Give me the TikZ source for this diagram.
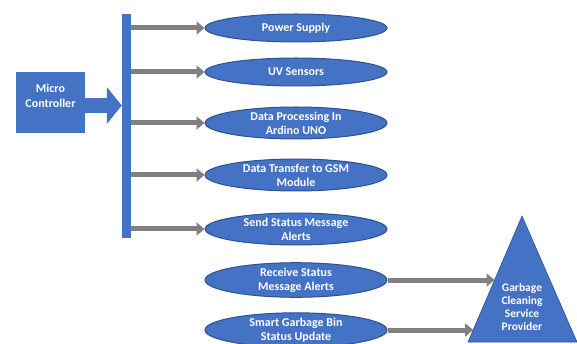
\documentclass[tikz,border=0pt]{standalone}
\usepackage{fontspec}
\setmainfont{Carlito}
\usepackage{tikz}
\usetikzlibrary{calc}
\definecolor{MSblue}{RGB}{68,114,196}
\definecolor{MSdark}{RGB}{47,82,143}
\definecolor{MSgrey}{RGB}{128,128,128}
\usetikzlibrary{shapes.geometric}
\usetikzlibrary{arrows.meta}

\begin{document}
\begin{tikzpicture}[x=1pt, y=-1pt,
  GrauPfeil/.style={draw=MSgrey, line width=5pt, arrows = -{Triangle[length=8pt, width=13pt]}},
  Blase/.style={ellipse, draw=MSdark, line width=1pt, fill=MSblue, text=white, align=center, minimum width=182pt, minimum height=32pt, inner sep=0pt, font=\bfseries\fontsize{12}{14}\selectfont}]
\useasboundingbox (0,0) rectangle (577,344);
\node (mc) at (50.5,102.5) [fill=MSblue, minimum width=69pt, minimum height=61pt, inner sep=0pt] {};
\node (mctext) at ($(mc.center) - (0,7)$) [text=white, align=center, font=\bfseries\fontsize{12}{15}\selectfont] {Micro\\Controller};
\node (bus) at (126.5,126) [fill=MSblue, minimum width=9pt, minimum height=224pt, inner sep=0pt] {};
\draw[MSblue, line width=15pt, arrows = -{Triangle[length=15pt, width=36pt]}] ($(mc.east) + (0,3)$) -- ($(mc.east -| bus.west) + (0,3)$);
\node (ps) at (296,28) [Blase, minimum height=28pt] {Power Supply};
\node (uv) at (296,72) [Blase, minimum height=28pt] {UV Sensors};
\node (dp) at (296,123) [Blase] {Data Processing In\\Ardino UNO};
\node (dt) at (296,175) [Blase] {Data Transfer to GSM\\Module};
\node (ss) at (296,229) [Blase] {Send Status Message\\Alerts};
\node (rs) at (296,280) [Blase] {Receive Status\\Message Alerts};
\node (sg) at (296,330) [Blase] {Smart Garbage Bin\\Status Update};
% triangle for the service provider
\coordinate (apex) at (522,216);
\coordinate (bl) at (468,342);
\coordinate (br) at (577,342);
\draw[fill=MSblue, draw=MSdark, line width=0.6pt] (apex) -- (bl) -- (br) -- cycle;
\node (gcsp) at (522,307) [text=white, align=center, font=\bfseries\fontsize{11.5}{13}\selectfont] {Garbage\\Cleaning\\Service\\Provider};
\coordinate (e1) at ($(apex)!0.508!(bl)$);
\coordinate (e2) at ($(apex)!0.905!(bl)$);
\draw[GrauPfeil] (bus.east |- ps) -- (ps.west);
\draw[GrauPfeil] (bus.east |- uv) -- (uv.west);
\draw[GrauPfeil] (bus.east |- dp) -- (dp.west);
\draw[GrauPfeil] (bus.east |- dt) -- (dt.west);
\draw[GrauPfeil] (bus.east |- ss) -- (ss.west);
\draw[GrauPfeil] (rs.east) -- (rs.east -| e1);
\draw[GrauPfeil] (sg.east) -- (sg.east -| e2);
\end{tikzpicture}
\end{document}
